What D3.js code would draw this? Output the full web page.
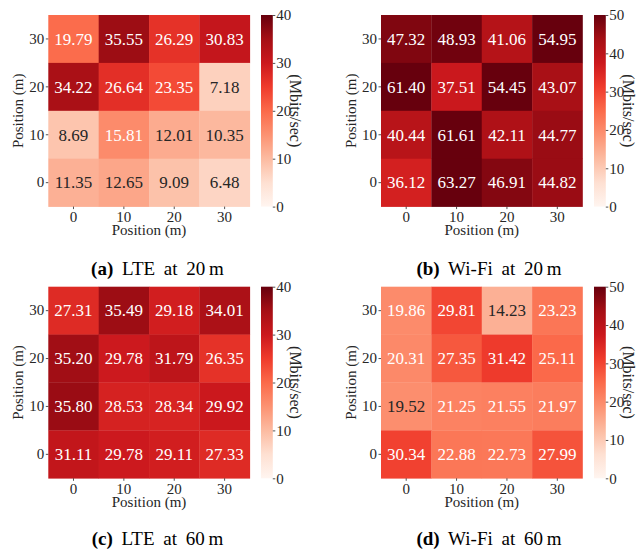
<!DOCTYPE html>
<html>
<head>
<meta charset="utf-8">
<script src="https://cdn.jsdelivr.net/npm/d3@7"></script>
<style>
  html, body { margin: 0; padding: 0; background: #fff; }
  svg { display: block; }
  svg text { font-family: "Liberation Serif", serif; fill: #262626; }
</style>
</head>
<body>
<svg id="chart" width="644" height="550"></svg>
<script>
// ---- data ----
const xLabels = ["0", "10", "20", "30"];
const yLabels = ["30", "20", "10", "0"];           // top row to bottom row

const lte20  = [[19.79, 35.55, 26.29, 30.83],
                [34.22, 26.64, 23.35,  7.18],
                [ 8.69, 15.81, 12.01, 10.35],
                [11.35, 12.65,  9.09,  6.48]];
const wifi20 = [[47.32, 48.93, 41.06, 54.95],
                [61.40, 37.51, 54.45, 43.07],
                [40.44, 61.61, 42.11, 44.77],
                [36.12, 63.27, 46.91, 44.82]];
const lte60  = [[27.31, 35.49, 29.18, 34.01],
                [35.20, 29.78, 31.79, 26.35],
                [35.80, 28.53, 28.34, 29.92],
                [31.11, 29.78, 29.11, 27.33]];
const wifi60 = [[19.86, 29.81, 14.23, 23.23],
                [20.31, 27.35, 31.42, 25.11],
                [19.52, 21.25, 21.55, 21.97],
                [30.34, 22.88, 22.73, 27.99]];

const lteTicks  = [0, 10, 20, 30, 40];
const wifiTicks = [0, 10, 20, 30, 40, 50];
const captionTags = ["(a)", "(b)", "(c)", "(d)"];
const captionTexts = ["LTE at 20\u2009m", "Wi-Fi at 20\u2009m", "LTE at 60\u2009m", "Wi-Fi at 60\u2009m"];
const xTitle = "Position (m)";
const yTitle = "Position (m)";
const cbarTitle = "(Mbits/sec)";

// matplotlib "Reds" anchor colours
const redsStops = ["#fff5f0", "#fee0d2", "#fcbba1", "#fc9272", "#fb6a4a",
                   "#ef3b2c", "#cb181d", "#a50f15", "#67000d"];

// ---- layout ----
const panels = [
  { data: lte20,  vmax: 40, ticks: lteTicks,  hx: 48.3, hy: 15,    cbx: 261, capx: 157.5, capy: 275 },
  { data: wifi20, vmax: 50, ticks: wifiTicks, hx: 381,  hy: 15,    cbx: 594, capx: 489,   capy: 275 },
  { data: lte60,  vmax: 40, ticks: lteTicks,  hx: 48.3, hy: 286.7, cbx: 261, capx: 157.5, capy: 545 },
  { data: wifi60, vmax: 50, ticks: wifiTicks, hx: 381,  hy: 286.7, cbx: 594, capx: 489,   capy: 545 }
];
const HW = 201.5, HH = 191.6, CBW = 11.8;
const FONT = '"Liberation Serif", serif';

const svg = d3.select("#chart");
const redsInterp = d3.scaleLinear()
  .domain(d3.range(9).map(i => i / 8))
  .range(redsStops)
  .interpolate(d3.interpolateRgb)
  .clamp(true);

function lut(t) {
  let idx = Math.floor(t * 256);
  idx = Math.max(0, Math.min(255, idx));
  return redsInterp(idx / 255);
}
function relLum(c) {
  const rgb = d3.rgb(c);
  const f = v => { v /= 255; return v <= 0.03928 ? v / 12.92 : Math.pow((v + 0.055) / 1.055, 2.4); };
  return 0.2126 * f(rgb.r) + 0.7152 * f(rgb.g) + 0.0722 * f(rgb.b);
}

const defs = svg.append("defs");
const grad = defs.append("linearGradient").attr("id", "redsGrad")
  .attr("x1", 0).attr("y1", 1).attr("x2", 0).attr("y2", 0);
redsStops.forEach((c, i) => grad.append("stop").attr("offset", i / 8).attr("stop-color", c));

panels.forEach((p, pi) => {
  const g = svg.append("g").attr("font-family", FONT);
  const x = d3.scaleBand().domain(xLabels).range([p.hx, p.hx + HW]);
  const y = d3.scaleBand().domain(yLabels).range([p.hy, p.hy + HH]);
  const norm = d3.scaleLinear().domain([0, p.vmax]).clamp(true);

  const cells = [];
  p.data.forEach((row, ri) => row.forEach((v, ci) => cells.push({ xl: xLabels[ci], yl: yLabels[ri], v })));

  g.selectAll("rect.cell").data(cells).join("rect")
    .attr("class", "cell")
    .attr("x", d => x(d.xl)).attr("y", d => y(d.yl))
    .attr("width", x.bandwidth() + 0.3).attr("height", y.bandwidth() + 0.3)
    .attr("fill", d => lut(norm(d.v)));

  g.selectAll("text.ann").data(cells).join("text")
    .attr("class", "ann")
    .attr("x", d => x(d.xl) + x.bandwidth() / 2)
    .attr("y", d => y(d.yl) + y.bandwidth() / 2)
    .attr("dy", "0.34em")
    .attr("text-anchor", "middle")
    .style("font-size", "17px")
    .style("fill", d => relLum(lut(norm(d.v))) > 0.408 ? "#262626" : "#ffffff")
    .text(d => d.v.toFixed(2));

  const xAxis = d3.axisBottom(x).tickSize(2.5).tickPadding(2.5);
  const yAxis = d3.axisLeft(y).tickSize(2.5).tickPadding(1.5);
  const gx = g.append("g").attr("transform", `translate(0,${p.hy + HH})`).call(xAxis);
  const gy = g.append("g").attr("transform", `translate(${p.hx},0)`).call(yAxis);
  [gx, gy].forEach(a => {
    a.attr("font-family", FONT).attr("font-size", 15);
    a.select(".domain").remove();
    a.selectAll("line").attr("stroke", "#262626").attr("stroke-width", 0.8);
    a.selectAll("text").style("font-size", "15px").style("fill", "#262626");
  });

  g.append("text")
    .attr("x", p.hx + HW / 2).attr("y", p.hy + HH + 28.5)
    .attr("text-anchor", "middle").style("font-size", "15px")
    .text(xTitle);
  g.append("text")
    .attr("transform", `translate(${p.hx - 25},${p.hy + HH / 2}) rotate(-90)`)
    .attr("text-anchor", "middle").style("font-size", "15px")
    .text(yTitle);

  const cy = d3.scaleLinear().domain([0, p.vmax]).range([p.hy + HH, p.hy]);
  g.append("rect").attr("x", p.cbx).attr("y", p.hy).attr("width", CBW).attr("height", HH)
    .attr("fill", "url(#redsGrad)");
  const cAxis = d3.axisRight(cy).tickValues(p.ticks).tickSize(2.5).tickPadding(1);
  const gc = g.append("g").attr("transform", `translate(${p.cbx + CBW},0)`).call(cAxis);
  gc.attr("font-family", FONT).attr("font-size", 15);
  gc.select(".domain").remove();
  gc.selectAll("line").attr("stroke", "#262626").attr("stroke-width", 0.8);
  gc.selectAll("text").style("font-size", "15px").style("fill", "#262626");
  g.append("text")
    .attr("transform", `translate(${p.cbx + CBW + 23},${p.hy + HH / 2}) rotate(90)`)
    .attr("text-anchor", "middle").attr("dy", "0.35em").style("font-size", "16px")
    .text(cbarTitle);

  const cap = g.append("text").attr("x", p.capx).attr("y", p.capy)
    .attr("text-anchor", "middle").style("font-size", "19px").style("fill", "#000")
    .style("word-spacing", "4px");
  cap.append("tspan").style("font-weight", "bold").text(captionTags[pi]);
  cap.append("tspan").text(" " + captionTexts[pi]);
});
</script>
</body>
</html>
